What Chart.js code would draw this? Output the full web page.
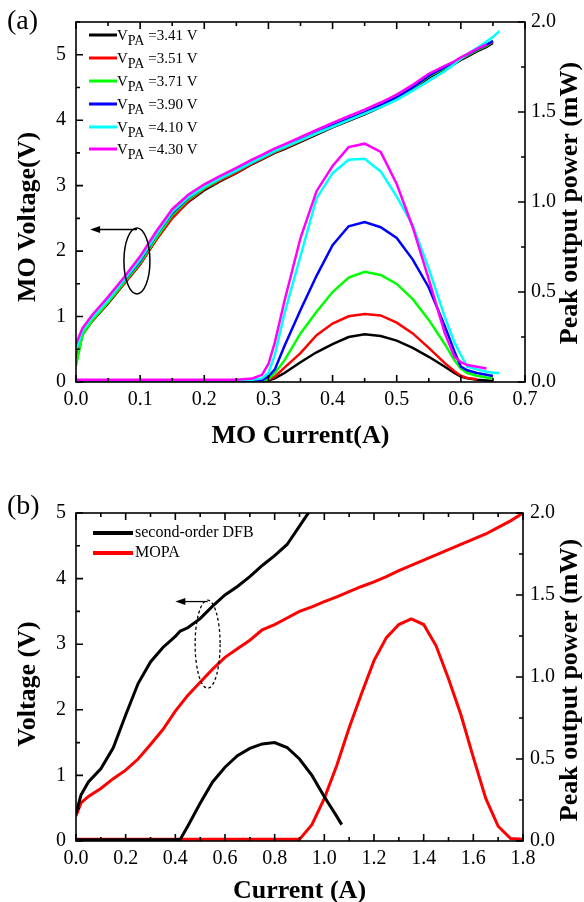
<!DOCTYPE html>
<html lang="en">
<head>
<meta charset="UTF-8">
<title>MO / MOPA characteristics</title>
<script src="https://cdn.jsdelivr.net/npm/chart.js"></script>
<style>
    body { margin: 0; background: #fff; }
    .panel { position: absolute; left: 0; width: 584px; height: 451px; }
</style>
</head>
<body>
<div class="panel" style="top:0"><canvas id="chartA"></canvas></div>
<div class="panel" style="top:451px"><canvas id="chartB"></canvas></div>
<script>
// ---------- panel (a) data ----------
const vpaLabels = ['3.41', '3.51', '3.71', '3.90', '4.10', '4.30'];
const moCurrent = [0, 0.01, 0.025, 0.05, 0.075, 0.1, 0.125, 0.15, 0.175, 0.2, 0.225, 0.25, 0.275, 0.29, 0.3,
    0.31, 0.325, 0.35, 0.375, 0.4, 0.425, 0.45, 0.475, 0.5, 0.525, 0.55, 0.575, 0.59, 0.6, 0.61, 0.625, 0.64, 0.65, 0.66];

const voltage341 = [0.3, 0.72, 0.93, 1.2, 1.5, 1.8, 2.18, 2.52, 2.75, 2.93, 3.07, 3.19, 3.33, 3.4, 3.45, 3.5, 3.56,
    3.67, 3.78, 3.89, 3.99, 4.09, 4.2, 4.32, 4.47, 4.65, 4.78, 4.86, 4.92, 4.97, 5.05, 5.12, 5.18, null];
const voltage351 = [0.35, 0.73, 0.93, 1.21, 1.5, 1.8, 2.17, 2.5, 2.76, 2.95, 3.08, 3.2, 3.34, 3.41, 3.46, 3.51, 3.57,
    3.68, 3.79, 3.9, 4.0, 4.1, 4.21, 4.33, 4.48, 4.67, 4.8, 4.88, 4.94, 4.99, 5.07, 5.14, 5.2, null];
const voltage371 = [0.25, 0.72, 0.94, 1.22, 1.52, 1.82, 2.2, 2.55, 2.79, 2.96, 3.1, 3.22, 3.35, 3.42, 3.47, 3.52, 3.58,
    3.69, 3.8, 3.91, 4.01, 4.11, 4.22, 4.34, 4.49, 4.67, 4.8, 4.88, 4.94, 4.99, 5.07, 5.14, 5.21, null];
const voltage390 = [0.5, 0.8, 1.0, 1.26, 1.55, 1.85, 2.24, 2.58, 2.81, 2.98, 3.11, 3.23, 3.36, 3.43, 3.48, 3.53, 3.59,
    3.7, 3.81, 3.92, 4.02, 4.12, 4.23, 4.35, 4.5, 4.68, 4.81, 4.89, 4.95, 5.0, 5.08, 5.15, 5.21, null];
const voltage410 = [0.48, 0.78, 0.98, 1.25, 1.56, 1.87, 2.25, 2.6, 2.82, 2.98, 3.11, 3.23, 3.36, 3.43, 3.48, 3.53, 3.59,
    3.69, 3.8, 3.9, 4.0, 4.1, 4.2, 4.31, 4.45, 4.6, 4.75, 4.86, 4.94, 5.01, 5.1, 5.2, 5.27, 5.36];
const voltage430 = [0.58, 0.82, 1.02, 1.3, 1.6, 1.92, 2.3, 2.64, 2.86, 3.02, 3.15, 3.27, 3.4, 3.47, 3.52, 3.57, 3.63,
    3.74, 3.85, 3.96, 4.06, 4.16, 4.27, 4.39, 4.54, 4.71, 4.83, 4.9, 4.96, 5.01, 5.09, 5.16, null, null];

const power341 = [0.008, 0.008, 0.008, 0.008, 0.008, 0.008, 0.008, 0.008, 0.008, 0.008, 0.008, 0.008, 0.008, 0.008, 0.008,
    0.02, 0.05, 0.11, 0.165, 0.21, 0.25, 0.265, 0.255, 0.23, 0.19, 0.14, 0.085, 0.05, 0.03, 0.02, 0.012, 0.008, 0.006, null];
const power351 = [0.008, 0.008, 0.008, 0.008, 0.008, 0.008, 0.008, 0.008, 0.008, 0.008, 0.008, 0.008, 0.008, 0.008, 0.012,
    0.03, 0.08, 0.16, 0.26, 0.325, 0.365, 0.378, 0.37, 0.33, 0.27, 0.19, 0.105, 0.06, 0.035, 0.022, 0.015, null, null, null];
const power371 = [0.008, 0.008, 0.008, 0.008, 0.008, 0.008, 0.008, 0.008, 0.008, 0.008, 0.008, 0.008, 0.008, 0.008, 0.015,
    0.05, 0.12, 0.27, 0.39, 0.5, 0.58, 0.612, 0.595, 0.545, 0.46, 0.345, 0.21, 0.12, 0.075, 0.05, 0.035, 0.025, 0.02, null];
const power390 = [0.008, 0.008, 0.008, 0.008, 0.008, 0.008, 0.008, 0.008, 0.008, 0.008, 0.008, 0.008, 0.008, 0.01, 0.03,
    0.07, 0.2, 0.4, 0.59, 0.76, 0.865, 0.888, 0.86, 0.8, 0.68, 0.525, 0.31, 0.17, 0.085, 0.065, 0.05, 0.04, 0.033, null];
const power410 = [0.01, 0.01, 0.01, 0.01, 0.01, 0.01, 0.01, 0.01, 0.01, 0.01, 0.01, 0.01, 0.012, 0.02, 0.05,
    0.15, 0.38, 0.7, 1.02, 1.16, 1.235, 1.24, 1.17, 1.03, 0.87, 0.63, 0.36, 0.22, 0.15, 0.085, 0.07, 0.057, 0.052, 0.05];
const power430 = [0.012, 0.012, 0.012, 0.012, 0.012, 0.012, 0.012, 0.012, 0.012, 0.012, 0.012, 0.012, 0.02, 0.04, 0.1,
    0.22, 0.45, 0.8, 1.06, 1.2, 1.305, 1.324, 1.278, 1.1, 0.86, 0.57, 0.27, 0.14, 0.11, 0.094, 0.085, 0.075, null, null];

// ---------- panel (b) data ----------
const dfbCurrent = [0, 0.02, 0.05, 0.1, 0.15, 0.2, 0.25, 0.3, 0.35, 0.4, 0.42, 0.45, 0.5, 0.55, 0.6, 0.65, 0.7, 0.75,
    0.8, 0.85, 0.9, 0.95, 1.0, 1.05, 1.07];
const dfbVoltage = [0.42, 0.7, 0.9, 1.1, 1.42, 1.92, 2.4, 2.73, 2.95, 3.12, 3.2, 3.25, 3.39, 3.58, 3.75, 3.88, 4.03, 4.2,
    4.35, 4.52, 4.8, 5.08, null, null, null];
const dfbPower = [0.008, 0.008, 0.008, 0.008, 0.008, 0.008, 0.008, 0.008, 0.008, 0.008, 0.01, 0.09, 0.23, 0.36, 0.45, 0.52,
    0.565, 0.592, 0.6, 0.57, 0.5, 0.4, 0.27, 0.15, 0.1];

const mopaCurrent = [0, 0.02, 0.05, 0.1, 0.15, 0.2, 0.25, 0.3, 0.35, 0.4, 0.45, 0.5, 0.55, 0.6, 0.65, 0.7, 0.75, 0.8,
    0.85, 0.9, 0.95, 1.0, 1.05, 1.1, 1.15, 1.2, 1.25, 1.3, 1.35, 1.4, 1.45, 1.5, 1.55, 1.6, 1.65, 1.7, 1.75, 1.8];
const mopaVoltage = [0.38, 0.58, 0.68, 0.8, 0.95, 1.08, 1.25, 1.47, 1.7, 1.98, 2.22, 2.42, 2.62, 2.8, 2.93, 3.06, 3.22, 3.3,
    3.4, 3.5, 3.57, 3.65, 3.72, 3.8, 3.88, 3.95, 4.03, 4.12, 4.2, 4.28, 4.36, 4.44, 4.52, 4.6, 4.68, 4.78, 4.88, 5.0];
const mopaPower = [0.01, 0.01, 0.01, 0.01, 0.01, 0.01, 0.01, 0.01, 0.01, 0.01, 0.01, 0.01, 0.01, 0.01, 0.01, 0.01, 0.01, 0.01,
    0.01, 0.01, 0.1, 0.26, 0.46, 0.69, 0.9, 1.1, 1.24, 1.32, 1.355, 1.32, 1.19, 0.99, 0.77, 0.51, 0.26, 0.09, 0.015, 0.01];

// ---------- helpers ----------
const SERIF = "'Liberation Serif', 'Times New Roman', serif";
Chart.defaults.font.family = SERIF;
Chart.defaults.font.size = 20;
Chart.defaults.color = '#000';

const colorsA = ['#000000', '#ff0000', '#00ff00', '#0000ff', '#00ffff', '#ff00ff'];
const voltagesA = [voltage341, voltage351, voltage371, voltage390, voltage410, voltage430];
const powersA = [power341, power351, power371, power390, power410, power430];

function points(xs, ys) {
    return xs.map((x, i) => ({ x: x, y: ys[i] })).filter(p => p.y !== null && p.y !== undefined);
}

function onStep(v, step) {
    const r = v / step;
    return Math.abs(r - Math.round(r)) < 1e-6;
}

function labelEvery(step, digits) {
    return v => onStep(v, step) ? v.toFixed(digits) : '';
}

function line(data, color, axis, width, order) {
    return {
        data: data, yAxisID: axis, borderColor: color, backgroundColor: color,
        borderWidth: width, pointRadius: 0, fill: false, tension: 0, order: order
    };
}

function axisCfg(pos, min, max, step, major, digits, size, pad) {
    const cfg = {
        type: 'linear', position: pos, min: min, max: max,
        grid: { display: false, drawTicks: false },
        border: { display: false },
        ticks: { stepSize: step, autoSkip: false, padding: pad, maxRotation: 0, callback: labelEvery(major, digits) }
    };
    if (pos === 'bottom') cfg.afterFit = s => { s.height = size; };
    else cfg.afterFit = s => { s.width = size; };
    return cfg;
}

// frame around plot area with inward major/minor ticks on all sides
const frameTicks = {
    id: 'frameTicks',
    afterDatasetsDraw(chart, args, opts) {
        const { ctx, chartArea: a, scales } = chart;
        ctx.save();
        ctx.strokeStyle = '#000';
        ctx.lineWidth = 1.6;
        ctx.strokeRect(a.left, a.top, a.right - a.left, a.bottom - a.top);
        ctx.beginPath();
        scales.x.ticks.forEach(t => {
            const p = scales.x.getPixelForValue(t.value);
            const len = onStep(t.value, opts.xMajor) ? 7 : 4;
            ctx.moveTo(p, a.bottom); ctx.lineTo(p, a.bottom - len);
            ctx.moveTo(p, a.top); ctx.lineTo(p, a.top + len);
        });
        scales.y.ticks.forEach(t => {
            const p = scales.y.getPixelForValue(t.value);
            const len = onStep(t.value, opts.yMajor) ? 7 : 4;
            ctx.moveTo(a.left, p); ctx.lineTo(a.left + len, p);
        });
        scales.y1.ticks.forEach(t => {
            const p = scales.y1.getPixelForValue(t.value);
            const len = onStep(t.value, opts.y1Major) ? 7 : 4;
            ctx.moveTo(a.right, p); ctx.lineTo(a.right - len, p);
        });
        ctx.stroke();
        ctx.restore();
    }
};

function vtext(ctx, txt, x, y) {
    ctx.save();
    ctx.translate(x, y);
    ctx.rotate(-Math.PI / 2);
    ctx.textAlign = 'center';
    ctx.textBaseline = 'alphabetic';
    ctx.fillText(txt, 0, 0);
    ctx.restore();
}

function arrowLeft(ctx, x1, x2, y) {
    ctx.beginPath();
    ctx.moveTo(x1, y); ctx.lineTo(x2 + 6, y);
    ctx.stroke();
    ctx.beginPath();
    ctx.moveTo(x2, y); ctx.lineTo(x2 + 10, y - 3.5); ctx.lineTo(x2 + 10, y + 3.5);
    ctx.closePath();
    ctx.fill();
}

const decorA = {
    id: 'decorA',
    afterDraw(chart) {
        const { ctx, chartArea: a, scales } = chart;
        ctx.save();
        ctx.fillStyle = '#000';
        ctx.strokeStyle = '#000';
        ctx.font = '28px ' + SERIF;
        ctx.textBaseline = 'middle';
        ctx.fillText('(a)', 7, 22);

        ctx.font = 'bold 26px ' + SERIF;
        ctx.textAlign = 'center';
        ctx.textBaseline = 'alphabetic';
        ctx.fillText('MO Current(A)', (a.left + a.right) / 2, 443);
        vtext(ctx, 'MO Voltage(V)', 35, 217);
        vtext(ctx, 'Peak output power (mW)', 577, 203);

        // legend
        const rows = [35, 58, 81, 104, 127, 149];
        ctx.textAlign = 'left';
        vpaLabels.forEach((v, i) => {
            const y = rows[i];
            ctx.strokeStyle = colorsA[i];
            ctx.lineWidth = 3;
            ctx.beginPath(); ctx.moveTo(89, y); ctx.lineTo(117, y); ctx.stroke();
            ctx.fillStyle = '#000';
            ctx.font = '15px ' + SERIF;
            ctx.fillText('V', 117, y + 4.5);
            let x = 117 + ctx.measureText('V').width;
            ctx.font = '14px ' + SERIF;
            ctx.fillText('PA', x, y + 9.5);
            x += ctx.measureText('PA').width;
            ctx.font = '15px ' + SERIF;
            ctx.fillText(' =' + v + ' V', x, y + 4.5);
        });

        // ellipse + arrow pointing to the voltage axis
        ctx.strokeStyle = '#000';
        ctx.fillStyle = '#000';
        ctx.lineWidth = 1.5;
        const cx = scales.x.getPixelForValue(0.095), cy = scales.y.getPixelForValue(1.85);
        ctx.beginPath(); ctx.ellipse(cx, cy, 13, 33, 0, 0, Math.PI * 2); ctx.stroke();
        arrowLeft(ctx, cx, scales.x.getPixelForValue(0.022), scales.y.getPixelForValue(2.33));
        ctx.restore();
    }
};

const decorB = {
    id: 'decorB',
    afterDraw(chart) {
        const { ctx, chartArea: a, scales } = chart;
        ctx.save();
        ctx.fillStyle = '#000';
        ctx.strokeStyle = '#000';
        ctx.font = '28px ' + SERIF;
        ctx.textBaseline = 'middle';
        ctx.fillText('(b)', 7, 56);

        ctx.font = 'bold 26px ' + SERIF;
        ctx.textAlign = 'center';
        ctx.textBaseline = 'alphabetic';
        ctx.fillText('Current (A)', (a.left + a.right) / 2, 447);
        vtext(ctx, 'Voltage (V)', 35, 233);
        vtext(ctx, 'Peak output power (mW)', 577, 229);

        // legend
        const items = [['second-order DFB', '#000000', 82], ['MOPA', '#ff0000', 102]];
        ctx.textAlign = 'left';
        ctx.textBaseline = 'middle';
        ctx.font = '16px ' + SERIF;
        items.forEach(([txt, col, y]) => {
            ctx.strokeStyle = col;
            ctx.lineWidth = 4;
            ctx.beginPath(); ctx.moveTo(93, y); ctx.lineTo(133, y); ctx.stroke();
            ctx.fillStyle = '#000';
            ctx.fillText(txt, 135, y);
        });

        // dashed ellipse + arrow
        ctx.strokeStyle = '#000';
        ctx.fillStyle = '#000';
        ctx.lineWidth = 1.3;
        const cx = scales.x.getPixelForValue(0.53), cy = scales.y.getPixelForValue(3.0);
        ctx.setLineDash([3, 2.5]);
        ctx.beginPath(); ctx.ellipse(cx, cy, 12.5, 44, 0, 0, Math.PI * 2); ctx.stroke();
        ctx.setLineDash([]);
        arrowLeft(ctx, cx, scales.x.getPixelForValue(0.4), scales.y.getPixelForValue(3.65));
        ctx.restore();
    }
};

// ---------- chart (a) ----------
const datasetsA = [];
colorsA.forEach((c, i) => {
    datasetsA.push(line(points(moCurrent, voltagesA[i]), c, 'y', 2.5, 5 - i));
    datasetsA.push(line(points(moCurrent, powersA[i]), c, 'y1', 2.5, 5 - i));
});

new Chart(document.getElementById('chartA'), {
    type: 'line',
    data: { datasets: datasetsA },
    options: {
        responsive: true,
        maintainAspectRatio: false,
        animation: false,
        layout: { padding: { top: 19, left: 0, right: 0, bottom: 0 } },
        plugins: {
            legend: { display: false },
            tooltip: { enabled: false },
            frameTicks: { xMajor: 0.1, yMajor: 1, y1Major: 0.5 }
        },
        scales: {
            x: axisCfg('bottom', 0, 0.7, 0.05, 0.1, 1, 69, 6),
            y: axisCfg('left', 0, 5.5, 0.5, 1, 0, 76, 10),
            y1: axisCfg('right', 0, 2.0, 0.25, 0.5, 1, 59, 6)
        }
    },
    plugins: [frameTicks, decorA]
});

// ---------- chart (b) ----------
new Chart(document.getElementById('chartB'), {
    type: 'line',
    data: {
        datasets: [
            line(points(dfbCurrent, dfbVoltage), '#000000', 'y', 3, 0),
            line(points(dfbCurrent, dfbPower), '#000000', 'y1', 3, 0),
            line(points(mopaCurrent, mopaVoltage), '#ff0000', 'y', 3, 1),
            line(points(mopaCurrent, mopaPower), '#ff0000', 'y1', 3, 1)
        ]
    },
    options: {
        responsive: true,
        maintainAspectRatio: false,
        animation: false,
        layout: { padding: { top: 62, left: 0, right: 0, bottom: 0 } },
        plugins: {
            legend: { display: false },
            tooltip: { enabled: false },
            frameTicks: { xMajor: 0.2, yMajor: 1, y1Major: 0.5 }
        },
        scales: {
            x: axisCfg('bottom', 0, 1.8, 0.1, 0.2, 1, 61, 6),
            y: axisCfg('left', 0, 5, 0.5, 1, 0, 76, 10),
            y1: axisCfg('right', 0, 2.0, 0.25, 0.5, 1, 61, 7)
        }
    },
    plugins: [frameTicks, decorB]
});
</script>
</body>
</html>
